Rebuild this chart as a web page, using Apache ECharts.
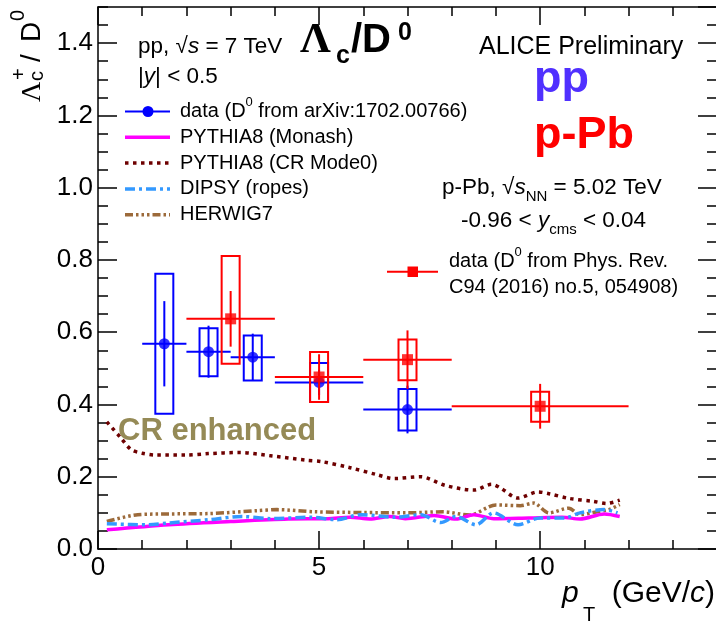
<!DOCTYPE html>
<html><head><meta charset="utf-8">
<script src="https://cdn.jsdelivr.net/npm/echarts@6/dist/echarts.min.js"></script>
<style>html,body{margin:0;padding:0;background:#fff}#c{width:716px;height:623px}</style>
</head><body><div id="c"></div>
<script>
// ---------- data ----------
const ppPt    = [1.5, 2.5, 3.5, 5, 7];
const ppBinLo = [1, 2, 3, 4, 6];
const ppBinHi = [2, 3, 4, 6, 8];
const ppRatio = [0.568, 0.546, 0.531, 0.461, 0.386];
const ppStat  = [0.118, 0.072, 0.065, 0.035, 0.066];
const ppSysLo = [0.194, 0.068, 0.065, 0.054, 0.058];
const ppSysHi = [0.194, 0.065, 0.060, 0.054, 0.057];

const pPbPt    = [3, 5, 7, 10];
const pPbBinLo = [2, 4, 6, 8];
const pPbBinHi = [4, 6, 8, 12];
const pPbRatio = [0.637, 0.476, 0.524, 0.395];
const pPbStat  = [0.077, 0.063, 0.081, 0.062];
const pPbSysLo = [0.124, 0.069, 0.057, 0.043];
const pPbSysHi = [0.174, 0.069, 0.056, 0.040];

const crPt  = [0.2, 0.5, 0.75, 1.0, 1.3, 2.0, 2.5, 3.2, 3.9, 4.7, 5.05, 5.7, 6.3, 6.7, 7.3, 7.85, 8.5, 8.9, 9.1, 9.5, 9.95, 10.2, 10.65, 11.2, 11.5, 11.8];
const crVal = [0.352, 0.31, 0.275, 0.265, 0.26, 0.26, 0.264, 0.267, 0.258, 0.246, 0.242, 0.225, 0.206, 0.195, 0.2, 0.176, 0.163, 0.179, 0.169, 0.141, 0.158, 0.153, 0.14, 0.132, 0.126, 0.135];

const herwigPt  = [0.2, 0.9, 1.6, 2.5, 3.6, 4.05, 4.9, 6.0, 7.0, 7.8, 8.4, 9.0, 9.55, 9.85, 10.2, 10.65, 10.9, 11.2, 11.55, 11.8];
const herwigVal = [0.076, 0.095, 0.097, 0.098, 0.106, 0.109, 0.103, 0.101, 0.1, 0.103, 0.094, 0.122, 0.12, 0.127, 0.1, 0.113, 0.095, 0.101, 0.109, 0.123];

const dipsyPt  = [0.2, 1.15, 1.6, 2.5, 3.25, 3.9, 4.8, 5.4, 5.95, 6.7, 7.3, 7.75, 8.1, 8.55, 8.95, 9.5, 10.0, 10.55, 10.9, 11.45, 11.75];
const dipsyVal = [0.07, 0.067, 0.072, 0.081, 0.09, 0.084, 0.088, 0.081, 0.095, 0.088, 0.095, 0.073, 0.09, 0.067, 0.1, 0.067, 0.086, 0.086, 0.1, 0.109, 0.1];

const monashPt  = [0.2, 1.6, 3.0, 4.3, 5.2, 5.7, 6.15, 6.6, 6.95, 7.6, 8.1, 8.5, 8.95, 9.75, 10.5, 10.9, 11.45, 11.8];
const monashVal = [0.053, 0.067, 0.076, 0.083, 0.084, 0.088, 0.083, 0.09, 0.084, 0.093, 0.083, 0.095, 0.084, 0.086, 0.088, 0.083, 0.097, 0.09];

const xTickLabels = ['0', '5', '10'];
const yTickLabels = ['0.0', '0.2', '0.4', '0.6', '0.8', '1.0', '1.2', '1.4'];

// ---------- styles ----------
const SANS = 'Liberation Sans, Arial, Helvetica, sans-serif';
const SERIF = 'Liberation Serif, Times New Roman, serif';
const BLUE = '#0000ff', RED = '#ff0000';
const C_CR = '#6e0000', C_HERWIG = '#9c6a3a', C_DIPSY = '#3399ff', C_MONASH = '#ff00ff';
const DASH_CR = [3.5, 4.5], DASH_DIPSY = [10, 4, 3, 4], DASH_HERWIG = [8, 3, 2.5, 3, 2.5, 3, 2.5, 3];

const pairs = (a, b) => a.map((v, i) => [v, b[i]]);

function sysBox(color) {
  return function (params, api) {
    const x = api.value(0), y = api.value(1), lo = api.value(2), hi = api.value(3);
    const c = api.coord([x, y]);
    const top = api.coord([x, y + hi])[1];
    const bot = api.coord([x, y - lo])[1];
    const hw = 9;
    return { type: 'rect', shape: { x: c[0] - hw, y: top, width: 2 * hw, height: bot - top },
      style: { fill: 'none', stroke: color, lineWidth: 2 } };
  };
}
function errBar(color) {
  return function (params, api) {
    const x = api.value(0), y = api.value(1), xl = api.value(2), xh = api.value(3), e = api.value(4);
    const pl = api.coord([xl, y]), ph = api.coord([xh, y]);
    const pt = api.coord([x, y + e]), pb = api.coord([x, y - e]);
    return { type: 'group', children: [
      { type: 'line', shape: { x1: pl[0], y1: pl[1], x2: ph[0], y2: ph[1] }, style: { stroke: color, lineWidth: 2 } },
      { type: 'line', shape: { x1: pt[0], y1: pt[1], x2: pb[0], y2: pb[1] }, style: { stroke: color, lineWidth: 2 } }
    ]};
  };
}

const axisCommon = { type: 'value', splitLine: { show: false }, axisPointer: { show: false } };
function xAx(pos, major) {
  return Object.assign({}, axisCommon, {
    gridIndex: 0, position: pos, offset: 0, min: 0, max: 14, interval: major ? 5 : 1,
    axisLine: { show: major, onZero: false, lineStyle: { color: '#000', width: 1.5 } },
    axisTick: { show: true, inside: true, length: major ? 18 : 9, lineStyle: { color: '#000', width: 1.5 } },
    axisLabel: { show: major && pos === 'bottom', showMaxLabel: false, margin: 6, color: '#000',
      fontSize: 26, fontFamily: SANS,
      formatter: v => { const i = xTickLabels.indexOf(String(v)); return i >= 0 ? xTickLabels[i] : ''; } }
  });
}
function yAx(pos, major) {
  return Object.assign({}, axisCommon, {
    gridIndex: 0, position: pos, offset: 0, min: 0, max: 1.5, interval: major ? 0.2 : 0.05,
    axisLine: { show: major, onZero: false, lineStyle: { color: '#000', width: 1.5 } },
    axisTick: { show: true, inside: true, length: major ? 19 : 10, lineStyle: { color: '#000', width: 1.5 } },
    axisLabel: { show: major && pos === 'left', showMaxLabel: false, margin: 5, color: '#000',
      fontSize: 26, fontFamily: SANS,
      formatter: v => { const s = (+v).toFixed(1); return yTickLabels.indexOf(s) >= 0 ? s : ''; } }
  });
}

function txt(x, y, text, rich, extra) {
  return Object.assign({ type: 'text', x: x, y: y, z: 10,
    style: Object.assign({ text: text, rich: rich || {}, fill: '#000', fontFamily: SANS, fontSize: 20,
      textAlign: 'left', textVerticalAlign: 'middle' }, extra || {}) });
}

const R22 = {
  n: { fontSize: 22.5, fontFamily: SANS, lineHeight: 34, color: '#000' },
  i: { fontSize: 22.5, fontFamily: SANS, fontStyle: 'italic', lineHeight: 34, color: '#000' },
  sub: { fontSize: 15, fontFamily: SANS, lineHeight: 15, verticalAlign: 'bottom', color: '#000' }
};
const R20 = {
  n: { fontSize: 20, fontFamily: SANS, lineHeight: 31, color: '#000' },
  sup: { fontSize: 13, fontFamily: SANS, lineHeight: 13, verticalAlign: 'top', color: '#000' }
};

const legRows = [111.5, 137.3, 163.1, 188.9, 214.7];
const graphics = [
  // top-left annotation
  txt(138, 46.5, '{n|pp, √}{i|s}{n| = 7 TeV}', R22),
  txt(138, 76.5, '{n||}{i|y}{n|| < 0.5}', R22),
  // big title
  txt(300, 40.5, 'Λ', null, { fontFamily: SERIF, fontWeight: 'bold', fontSize: 43 }),
  txt(336, 56, 'c', null, { fontWeight: 'bold', fontSize: 25 }),
  txt(351, 40.9, '/D', null, { fontWeight: 'bold', fontSize: 40 }),
  txt(398, 33.5, '0', null, { fontWeight: 'bold', fontSize: 25 }),
  // ALICE
  txt(479, 47.5, 'ALICE Preliminary', null, { fontSize: 25 }),
  txt(534, 80, 'pp', null, { fontSize: 45, fontWeight: 'bold', fill: '#5030ff' }),
  txt(534, 136, 'p-Pb', null, { fontSize: 45, fontWeight: 'bold', fill: RED }),
  txt(442, 187.5, '{n|p-Pb, √}{i|s}{sub|NN}{n| = 5.02 TeV}', R22),
  txt(461, 220.5, '{n|-0.96 < }{i|y}{sub|cms}{n| < 0.04}', R22),
  // red legend
  { type: 'line', z: 10, shape: { x1: 387, y1: 271.7, x2: 438, y2: 271.7 }, style: { stroke: RED, lineWidth: 2 } },
  { type: 'rect', z: 10, shape: { x: 407.5, y: 266.5, width: 10.5, height: 10.5 }, style: { fill: RED } },
  txt(449, 261.8, '{n|data (D}{sup|0}{n| from Phys. Rev.}', R20),
  txt(449, 287.3, 'C94 (2016) no.5, 054908)', null, { fontSize: 20 }),
  // left legend
  { type: 'line', z: 10, shape: { x1: 125, y1: legRows[0], x2: 170, y2: legRows[0] }, style: { stroke: BLUE, lineWidth: 2 } },
  { type: 'circle', z: 10, shape: { cx: 148, cy: legRows[0], r: 5.5 }, style: { fill: BLUE } },
  txt(180, legRows[0], '{n|data (D}{sup|0}{n| from arXiv:1702.00766)}', R20),
  { type: 'line', z: 10, shape: { x1: 125, y1: legRows[1], x2: 170, y2: legRows[1] }, style: { stroke: C_MONASH, lineWidth: 3.5 } },
  txt(180, legRows[1], 'PYTHIA8 (Monash)'),
  { type: 'line', z: 10, shape: { x1: 125, y1: legRows[2], x2: 170, y2: legRows[2] }, style: { stroke: C_CR, lineWidth: 3.5, lineDash: DASH_CR } },
  txt(180, legRows[2], 'PYTHIA8 (CR Mode0)'),
  { type: 'line', z: 10, shape: { x1: 125, y1: legRows[3], x2: 170, y2: legRows[3] }, style: { stroke: C_DIPSY, lineWidth: 3.5, lineDash: DASH_DIPSY } },
  txt(180, legRows[3], 'DIPSY (ropes)'),
  { type: 'line', z: 10, shape: { x1: 125, y1: legRows[4], x2: 170, y2: legRows[4] }, style: { stroke: C_HERWIG, lineWidth: 3.5, lineDash: DASH_HERWIG } },
  txt(180, legRows[4], 'HERWIG7'),
  // CR enhanced
  txt(118, 431, 'CR enhanced', null, { fontSize: 31, fontWeight: 'bold', fill: '#958a56' }),
  // x-axis title
  txt(562, 594, 'p', null, { fontSize: 30, fontStyle: 'italic' }),
  txt(583, 615, 'T', null, { fontSize: 20 }),
  txt(715, 594, '{n|(GeV/}{i|c}{n|)}', {
    n: { fontSize: 30, fontFamily: SANS, color: '#000' },
    i: { fontSize: 30, fontFamily: SANS, fontStyle: 'italic', color: '#000' } }, { textAlign: 'right' }),
  // y-axis title (rotated)
  { type: 'group', x: 41, y: 102, rotation: Math.PI / 2, z: 10, children: [
    txt(0, -8.7, 'Λ', null, { fontFamily: SERIF, fontSize: 28 }),
    txt(21, -3.5, 'c', null, { fontSize: 20 }),
    txt(22, -21.5, '+', null, { fontSize: 20 }),
    txt(40, -8.7, '/', null, { fontSize: 28 }),
    txt(60, -8.7, 'D', null, { fontSize: 28 }),
    txt(81, -23, '0', null, { fontSize: 20 })
  ]}
];

const chart = echarts.init(document.getElementById('c'), null, { renderer: 'canvas' });
chart.setOption({
  animation: false,
  backgroundColor: '#fff',
  grid: { left: 98, top: 7, width: 619, height: 542, containLabel: false, outerBoundsMode: 'none', show: false },
  xAxis: [xAx('bottom', true), xAx('bottom', false), xAx('top', true), xAx('top', false)],
  yAxis: [yAx('left', true), yAx('left', false), yAx('right', true), yAx('right', false)],
  graphic: { elements: graphics },
  series: [
    { type: 'line', name: 'PYTHIA8 (CR Mode0)', data: pairs(crPt, crVal), showSymbol: false, symbol: 'none', smooth: 0.3,
      lineStyle: { color: C_CR, width: 3.5, type: DASH_CR }, silent: true, z: 2 },
    { type: 'line', name: 'HERWIG7', data: pairs(herwigPt, herwigVal), showSymbol: false, symbol: 'none', smooth: 0.3,
      lineStyle: { color: C_HERWIG, width: 3.5, type: DASH_HERWIG }, silent: true, z: 2 },
    { type: 'line', name: 'PYTHIA8 (Monash)', data: pairs(monashPt, monashVal), showSymbol: false, symbol: 'none', smooth: 0.3,
      lineStyle: { color: C_MONASH, width: 3.5 }, silent: true, z: 2 },
    { type: 'line', name: 'DIPSY (ropes)', data: pairs(dipsyPt, dipsyVal), showSymbol: false, symbol: 'none', smooth: 0.3,
      lineStyle: { color: C_DIPSY, width: 3.5, type: DASH_DIPSY }, silent: true, z: 2 },
    // pp data
    { type: 'custom', name: 'pp sys', renderItem: sysBox(BLUE), silent: true, z: 3,
      data: ppPt.map((p, i) => [p, ppRatio[i], ppSysLo[i], ppSysHi[i]]), encode: { x: 0, y: 1 } },
    { type: 'custom', name: 'pp stat', renderItem: errBar(BLUE), silent: true, z: 3,
      data: ppPt.map((p, i) => [p, ppRatio[i], ppBinLo[i], ppBinHi[i], ppStat[i]]), encode: { x: 0, y: 1 } },
    { type: 'scatter', name: 'pp', data: pairs(ppPt, ppRatio), symbol: 'circle', symbolSize: 11, silent: true, z: 4,
      itemStyle: { color: BLUE } },
    // p-Pb data
    { type: 'custom', name: 'pPb sys', renderItem: sysBox(RED), silent: true, z: 5,
      data: pPbPt.map((p, i) => [p, pPbRatio[i], pPbSysLo[i], pPbSysHi[i]]), encode: { x: 0, y: 1 } },
    { type: 'custom', name: 'pPb stat', renderItem: errBar(RED), silent: true, z: 5,
      data: pPbPt.map((p, i) => [p, pPbRatio[i], pPbBinLo[i], pPbBinHi[i], pPbStat[i]]), encode: { x: 0, y: 1 } },
    { type: 'scatter', name: 'p-Pb', data: pairs(pPbPt, pPbRatio), symbol: 'rect', symbolSize: 11, silent: true, z: 6,
      itemStyle: { color: RED } }
  ]
});
</script>
</body></html>
